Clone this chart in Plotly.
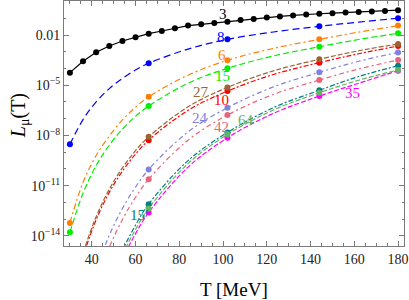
import plotly.graph_objects as go

# ---------------- data (log10 of L_mu) ----------------
T_black = [30, 36, 42, 48, 54, 60, 66, 72, 78, 84, 90, 96, 102, 108, 114,
           120, 126, 132, 138, 144, 150, 156, 162, 168, 174, 180]
L_black = [-4.25, -3.57, -3.03, -2.66, -2.36, -2.13, -1.92, -1.76, -1.60, -1.44,
           -1.36, -1.28, -1.21, -1.10, -1.04, -0.95, -0.89, -0.83, -0.77, -0.73,
           -0.70, -0.66, -0.63, -0.60, -0.57, -0.52]

T_full = [30, 36, 42, 48, 54, 60, 66, 84, 102, 123, 144, 162, 180]
L_blue = [-8.53, -7.05, -5.99, -5.20, -4.59, -4.09, -3.69, -2.84, -2.26, -1.82, -1.48, -1.23, -1.00]
L_orange = [-13.22, -10.8, -9.2, -8.03, -7.07, -6.31, -5.69, -4.40, -3.51, -2.80, -2.26, -1.83, -1.44]
L_green = [-13.78, -11.45, -9.8, -8.58, -7.62, -6.86, -6.24, -4.88, -3.99, -3.25, -2.70, -2.27, -1.90]

T_mid = [36, 42, 48, 54, 60, 66, 84, 102, 123, 144, 162, 180]
L_brown = [-15.0, -12.85, -11.21, -9.93, -8.91, -8.08, -6.29, -5.13, -4.14, -3.45, -2.94, -2.54]
L_red = [-15.2, -13.03, -11.40, -10.13, -9.11, -8.28, -6.50, -5.35, -4.36, -3.65, -3.12, -2.66]

T_late = [42, 48, 54, 60, 66, 84, 102, 123, 144, 162, 180]
L_purple = [-16.0, -13.96, -12.36, -11.08, -10.03, -7.79, -6.34, -5.10, -4.23, -3.57, -3.04]
L_pink = [-16.8, -14.68, -13.02, -11.69, -10.61, -8.28, -6.78, -5.55, -4.69, -4.03, -3.49]

T_last = [48, 54, 60, 66, 84, 102, 123, 144, 162, 180]
L_teal = [-16.8, -14.88, -13.35, -12.10, -9.50, -7.82, -6.34, -5.30, -4.48, -3.83]
L_green64 = [-17.05, -15.14, -13.61, -12.36, -9.68, -7.94, -6.48, -5.45, -4.70, -4.09]
L_magenta = [-17.35, -15.4, -13.86, -12.6, -9.89, -8.14, -6.68, -5.65, -4.88, -4.13]

M_early = [30, 66, 102, 144, 180]
M_std = [66, 102, 144, 180]

series = [
    # name, T, L, marker T list, color, dash
    ("blue", T_full, L_blue, M_early, "#0000ff", "7px,4px"),
    ("orange", T_full, L_orange, M_early, "#ff8000", "6px,3px,2px,3px"),
    ("green", T_full, L_green, M_early, "#00ee00", "6px,3px"),
    ("red", T_mid, L_red, M_std, "#ff0000", "5px,2px,2px,2px"),
    ("brown", T_mid, L_brown, M_std, "#996633", "5px,2px"),
    ("purple", T_late, L_purple, M_std, "#8080e0", "5px,3px,2px,3px"),
    ("pink", T_late, L_pink, M_std, "#e8647c", "5px,3px,2px,3px"),
    ("teal", T_last, L_teal, M_std, "#008080", "5px,2px,2px,2px"),
    ("magenta", T_last, L_magenta, M_std, "#ff00ff", "5px,2px"),
    ("green64", T_last, L_green64, M_std, "#66b266", "5px,2px"),
]

labels = [
    ("3", 100.0, -0.74, "#000000"),
    ("8", 99.0, -2.10, "#0000ff"),
    ("6", 99.4, -3.20, "#ff8000"),
    ("15", 99.7, -4.45, "#00ee00"),
    ("27", 89.8, -5.39, "#996633"),
    ("10", 99.4, -5.89, "#ff0000"),
    ("24", 89.4, -6.98, "#8080e0"),
    ("42", 99.4, -7.52, "#e8647c"),
    ("64", 110.3, -7.08, "#66b266"),
    ("35", 159.2, -5.49, "#ff00ff"),
    ("15\u2032", 61.5, -12.75, "#008080"),
]

x_ticks = [40, 60, 80, 100, 120, 140, 160, 180]
y_tick_exp = [-2, -5, -8, -11, -14]
y_tick_text = ["0.01", "10<sup>\u22125</sup>", "10<sup>\u22128</sup>",
               "10<sup>\u221211</sup>", "10<sup>\u221214</sup>"]

# ---------------- figure ----------------
fig = go.Figure()

for name, T, L, M, color, dash in series:
    fig.add_trace(go.Scatter(
        x=T, y=[10 ** v for v in L], mode="lines",
        line=dict(color=color, width=1.2, dash=dash, shape="spline", smoothing=1.0),
        showlegend=False, hoverinfo="skip"))
for name, T, L, M, color, dash in series:
    lookup = dict(zip(T, L))
    fig.add_trace(go.Scatter(
        x=M, y=[10 ** lookup[t] for t in M], mode="markers",
        marker=dict(color=color, size=6),
        showlegend=False, hoverinfo="skip"))

fig.add_trace(go.Scatter(
    x=T_black, y=[10 ** v for v in L_black], mode="lines+markers",
    line=dict(color="#000000", width=1.2),
    marker=dict(color="#000000", size=6),
    showlegend=False, hoverinfo="skip"))

for txt, tx, ty, col in labels:
    fig.add_annotation(x=tx, y=ty, text=txt, showarrow=False,
                       font=dict(family="Liberation Serif", size=15, color=col))

frame = "#7a7a7a"
fig.update_xaxes(range=[27.3, 182.7], tickvals=x_ticks, ticks="inside", ticklen=5,
                 tickcolor=frame, showline=True, linecolor=frame, linewidth=1,
                 mirror="ticks", showgrid=False, zeroline=False,
                 minor=dict(ticks="inside", ticklen=3, dtick=5, tick0=0, tickcolor=frame),
                 tickfont=dict(family="Liberation Serif", size=14, color="#222"))
fig.update_yaxes(type="log", range=[-14.6, 0.03],
                 tickvals=[10 ** e for e in y_tick_exp], ticktext=y_tick_text,
                 ticks="inside", ticklen=5, tickcolor=frame,
                 showline=True, linecolor=frame, linewidth=1, mirror="ticks",
                 showgrid=False, zeroline=False,
                 minor=dict(ticks="inside", ticklen=2, dtick=1, tickcolor=frame),
                 tickfont=dict(family="Liberation Serif", size=14, color="#222"))

fig.add_annotation(xref="paper", yref="paper", x=0.5, y=-0.125, yanchor="top",
                   text="T [MeV]", showarrow=False,
                   font=dict(family="Liberation Serif", size=19, color="#000"))
fig.add_annotation(xref="paper", yref="paper", x=-0.175, y=0.53, textangle=-90,
                   text="<i>L</i><sub>\u03bc</sub>(T)", showarrow=False,
                   font=dict(family="Liberation Serif", size=20, color="#000"))

fig.update_layout(width=409, height=300, margin=dict(l=64, r=5, t=1, b=54),
                  plot_bgcolor="white", paper_bgcolor="white")

fig.write_html("out.html", config={"displayModeBar": False},
               post_script="document.body.style.margin='0';")
